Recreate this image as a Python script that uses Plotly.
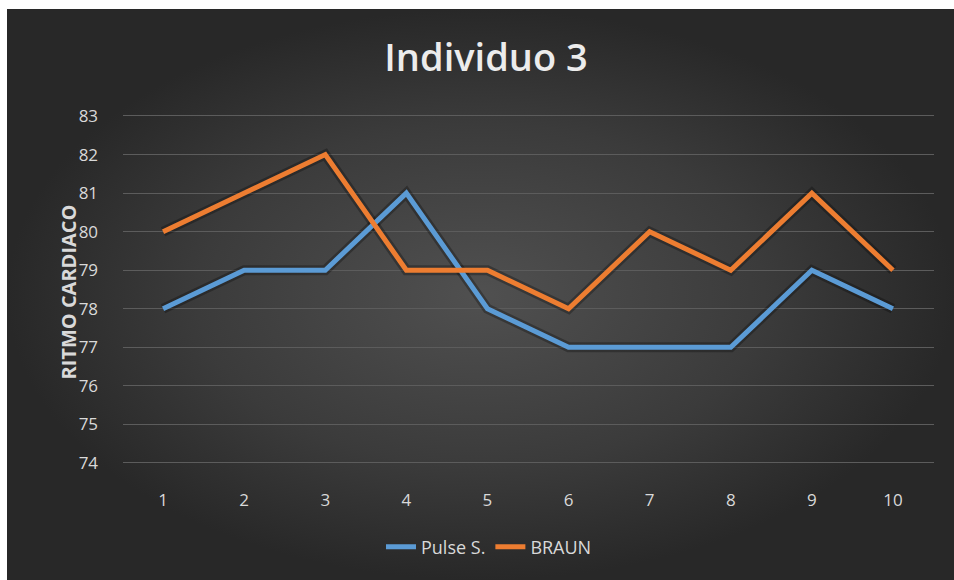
import plotly.graph_objects as go

W, H = 954, 580

# Measurements per sample
samples = list(range(1, 11))
pulse_s = [78, 79, 79, 81, 78, 77, 77, 77, 79, 78]
braun = [80, 81, 82, 79, 79, 78, 80, 79, 81, 79]
y_ticks = list(range(74, 84))

BLUE = "#5B9BD5"
ORANGE = "#ED7D31"
TEXT = "#d9d9d9"
FONT = "Open Sans"

# vertical placement: value 83 sits at y=116px, value 74 at y=463px
PAD = 0.06
px_per_unit = (463 - 116) / 9
y_top_px = 116 - PAD * px_per_unit
y_bot_px = 463 + PAD * px_per_unit

fig = go.Figure()

# Dark panel with a soft radial gradient behind the chart (pixel space axes)
fig.add_trace(go.Scatter(
    x=[7, W, W, 7, 7], y=[0, 0, H - 9, H - 9, 0],
    mode="none", fill="toself",
    fillgradient=dict(type="radial",
                      colorscale=[[0, "#505050"], [0.6, "#3b3b3b"], [1, "#282828"]]),
    hoverinfo="skip", showlegend=False, xaxis="x", yaxis="y",
))

# Soft shadow under each series
for vals in (pulse_s, braun):
    fig.add_trace(go.Scatter(
        x=samples, y=vals, mode="lines",
        line=dict(color="rgba(0,0,0,0.28)", width=10),
        hoverinfo="skip", showlegend=False, xaxis="x2", yaxis="y2",
    ))

fig.add_trace(go.Scatter(
    x=samples, y=pulse_s, name="Pulse S.", mode="lines",
    line=dict(color=BLUE, width=5), xaxis="x2", yaxis="y2",
))
fig.add_trace(go.Scatter(
    x=samples, y=braun, name="BRAUN", mode="lines",
    line=dict(color=ORANGE, width=5), xaxis="x2", yaxis="y2",
))

fig.update_layout(
    width=W, height=H,
    margin=dict(l=0, r=0, t=0, b=0, autoexpand=False),
    paper_bgcolor="white",
    plot_bgcolor="rgba(0,0,0,0)",
    font=dict(family=FONT, color=TEXT, size=15),
    title=dict(text="Individuo 3", x=486 / W, y=1 - 58 / H,
               xanchor="center", yanchor="middle", automargin=False,
               font=dict(family=FONT, size=38, color="#ececec", weight=600)),
    xaxis=dict(domain=[0, 1], range=[0, W], visible=False, fixedrange=True),
    yaxis=dict(domain=[0, 1], range=[0, H], visible=False, fixedrange=True),
    xaxis2=dict(domain=[122.5 / W, 933.5 / W], range=[0.5, 10.5], anchor="y2",
                tickvals=samples, ticktext=[str(s) for s in samples],
                showgrid=False, zeroline=False, showline=False,
                ticks="outside", ticklen=22 - PAD * px_per_unit, tickcolor="rgba(0,0,0,0)",
                tickfont=dict(size=17, color=TEXT)),
    yaxis2=dict(domain=[1 - y_bot_px / H, 1 - y_top_px / H],
                range=[74 - PAD, 83 + PAD], anchor="x2",
                tickvals=y_ticks, showgrid=True, gridcolor="#5c5c5c", gridwidth=1,
                zeroline=False, showline=False,
                ticks="outside", ticklen=20, tickcolor="rgba(0,0,0,0)",
                tickfont=dict(size=17, color=TEXT)),
    legend=dict(orientation="h", x=489 / W, y=1 - 547 / H,
                xanchor="center", yanchor="middle",
                font=dict(size=18, color=TEXT), bgcolor="rgba(0,0,0,0)",
                tracegroupgap=0),
    annotations=[dict(text="<b>RITMO CARDIACO</b>", textangle=-90,
                      x=52 / W, y=1 - 292 / H, xref="paper", yref="paper",
                      showarrow=False, font=dict(size=20, color=TEXT))],
)

fig.write_html("out.html")
